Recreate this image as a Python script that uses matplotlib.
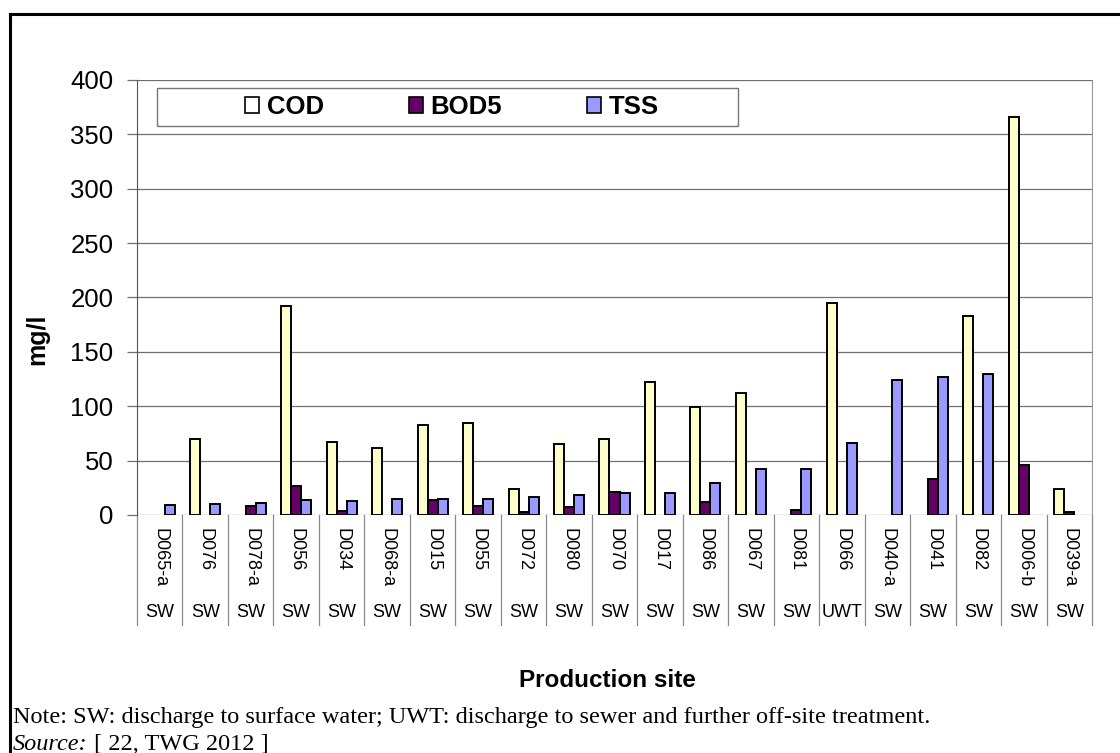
import numpy as np
import matplotlib
matplotlib.use("Agg")
from matplotlib import pyplot as plt
from matplotlib.patches import Patch, Rectangle
from matplotlib.lines import Line2D

# production sites and discharge route
sites = ["D065-a", "D076", "D078-a", "D056", "D034", "D068-a", "D015", "D055",
         "D072", "D080", "D070", "D017", "D086", "D067", "D081", "D066",
         "D040-a", "D041", "D082", "D006-b", "D039-a"]
routes = ["SW", "SW", "SW", "SW", "SW", "SW", "SW", "SW", "SW", "SW", "SW",
          "SW", "SW", "SW", "SW", "UWT", "SW", "SW", "SW", "SW", "SW"]

# concentrations in mg/l (0 = not reported)
cod = [0, 70, 0, 192, 67, 62, 83, 85, 24, 65, 70, 122, 99, 112, 0, 195,
       0, 0, 183, 366, 24]
bod5 = [0, 0, 8, 27, 4, 0, 14, 8, 3, 7, 21, 0, 12, 0, 5, 0,
        0, 33, 0, 46, 3]
tss = [9, 10, 11, 14, 13, 15, 15, 15, 17, 18, 20, 20, 29, 42, 42, 66,
       124, 127, 130, 0, 0]

series = [("COD", cod, "#FFFFCC"), ("BOD5", bod5, "#660066"), ("TSS", tss, "#9999FF")]

plt.rcParams["font.family"] = ["Liberation Sans", "DejaVu Sans"]

fig = plt.figure(figsize=(11.2, 7.53), dpi=100)
ax = fig.add_axes([137 / 1120, 1 - 515 / 753, 955 / 1120, 435 / 753])

x = np.arange(len(sites))
w = 0.22
for k, (name, vals, col) in enumerate(series):
    vals = np.asarray(vals, dtype=float)
    keep = vals > 0
    ax.bar(x[keep] + (k - 1) * w, vals[keep], w, color=col, edgecolor="black",
           linewidth=1.4, label=name, zorder=3)

ax.set_ylim(0, 400)
ax.set_xlim(-0.5, len(sites) - 0.5)
ax.set_yticks(np.arange(0, 401, 50))
ax.yaxis.grid(True, color="#707070", linewidth=0.9, zorder=0)
ax.tick_params(axis="y", length=7, width=0.9, color="#707070", pad=10,
               labelsize=18.5)
ax.tick_params(axis="x", length=0, labelbottom=False)
for s in ["top", "bottom"]:
    ax.spines[s].set_visible(False)
ax.spines["left"].set_color("#555555")
ax.spines["right"].set_color("#999999")

# category table under the axis
trans = ax.get_xaxis_transform()
for b in np.arange(-0.5, len(sites), 1.0):
    ax.add_line(Line2D([b, b], [0, -0.253], transform=trans, color="#888888",
                       linewidth=0.9, clip_on=False))
for i, (s, r) in enumerate(zip(sites, routes)):
    ax.text(i, -0.03, s, transform=trans, rotation=270, ha="center", va="top",
            fontsize=13)
    ax.text(i, -0.223, r, transform=trans, ha="center", va="center",
            fontsize=13)

ax.set_ylabel("mg/l", fontsize=18, fontweight="bold")
ax.yaxis.set_label_coords(-0.092, 0.405)
ax.set_xlabel("Production site", fontsize=17.5, fontweight="bold")
ax.xaxis.set_label_coords(0.493, -0.355)

# legend with a wide frame of its own
handles = [Patch(facecolor=c if n != "COD" else "white", edgecolor="black",
                 linewidth=1.2, label=n) for n, _, c in series]
ax.legend(handles=handles, ncol=3, frameon=False, loc="center",
          bbox_to_anchor=(452 / 1120, 1 - 107 / 753), bbox_transform=fig.transFigure,
          prop={"weight": "bold", "size": 18.5}, columnspacing=3.3,
          handlelength=0.55, handleheight=0.55, handletextpad=0.3)
fig.patches.append(Rectangle((157 / 1120, 1 - 126 / 753), 581 / 1120, 38 / 753,
                             transform=fig.transFigure, fill=False,
                             edgecolor="#777777", linewidth=1.0))

# outer frame
fig.add_artist(Line2D([10 / 1120, 10 / 1120], [0, 1 - 14 / 753], transform=fig.transFigure,
                      color="black", linewidth=2.2))
fig.add_artist(Line2D([10 / 1120, 1], [1 - 14 / 753, 1 - 14 / 753], transform=fig.transFigure,
                      color="black", linewidth=2.2))

note = ("Note: SW: discharge to surface water; UWT: discharge to sewer and "
        "further off-site treatment.")
fig.text(13 / 1120, 1 - 723 / 753, note, family="Liberation Serif", fontsize=17.5)
src = fig.text(13 / 1120, 1 - 750 / 753, "Source:", family="Liberation Serif",
               fontsize=17.5, style="italic")
ax.annotate(" [ 22, TWG 2012 ]", xy=(1, 0), xycoords=src, va="bottom",
            ha="left", family="Liberation Serif", fontsize=17.5,
            annotation_clip=False)

fig.savefig("out.png", dpi=100)
